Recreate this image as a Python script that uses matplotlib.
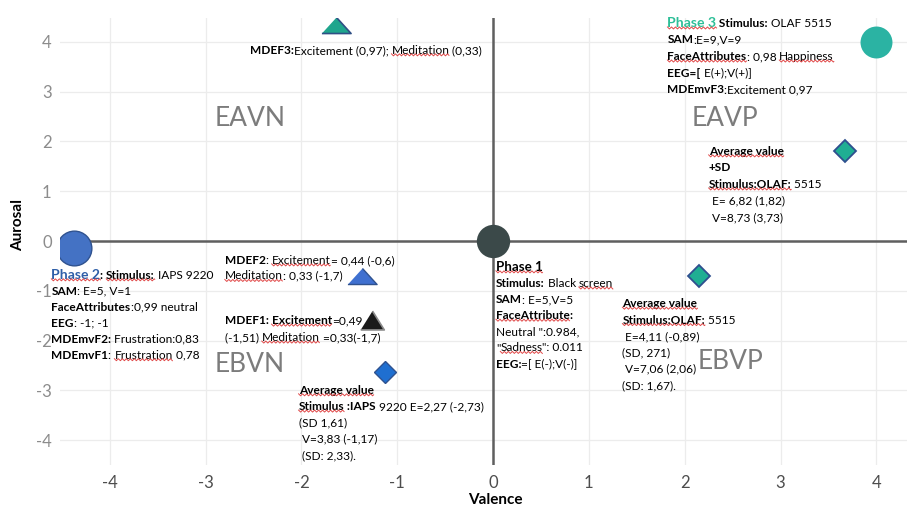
import matplotlib
matplotlib.use("Agg")
import matplotlib.pyplot as plt
import numpy as np
from matplotlib.lines import Line2D
from matplotlib.transforms import IdentityTransform

plt.rcParams['font.family'] = ['Lato', 'DejaVu Sans']

# ---------------- data ----------------
ticks = [-4, -3, -2, -1, 0, 1, 2, 3, 4]
point_names = ["Phase 3", "MDEF3", "Avg OLAF +SD", "Avg OLAF", "Avg IAPS",
               "Phase 2", "Phase 1", "MDEF2", "MDEF1"]
valence = [4.0, -1.64, 3.67, 2.15, -1.13, -4.37, 0.0, -1.37, -1.26]
arousal = [4.0, 4.34, 1.81, -0.70, -2.63, -0.15, 0.0, -0.70, -1.59]

quadrant_names = ["EAVN", "EAVP", "EBVN", "EBVP"]
quadrant_x = [-2.54, 2.42, -2.54, 2.48]
quadrant_y = [2.47, 2.47, -2.49, -2.43]

# marker styles
wide_tri = [(-1, -0.55), (1, -0.55), (0, 0.55)]
black_tri = [(-1, -0.8), (1, -0.8), (0, 0.8)]
styles = [
    dict(marker='o', ms=23, mfc='#2bb3a3', mec='#2bb3a3', mew=0),
    dict(marker=wide_tri, ms=21, mfc='#1fa58d', mec='#2f4f85', mew=1.2),
    dict(marker='D', ms=11.5, mfc='#1fae93', mec='#2f4f8f', mew=1.3),
    dict(marker='D', ms=11.5, mfc='#1fae93', mec='#2f4f8f', mew=1.3),
    dict(marker='D', ms=11.5, mfc='#1f6fd0', mec='#2f528f', mew=1.0),
    dict(marker='o', ms=25, mfc='#4472c4', mec='#2f528f', mew=1.0),
    dict(marker='o', ms=24, mfc='#3b4949', mec='#3b4949', mew=0),
    dict(marker=wide_tri, ms=21, mfc='#3f70d0', mec='#2f528f', mew=1.0),
    dict(marker=black_tri, ms=17, mfc='#1a1a1a', mec='#8a8a8a', mew=1.2),
]

# text blocks: segments (text, bold, color, size_delta, squiggle)
K = 'black'
TEAL = '#2dbf98'
BLUE = '#2f5fa8'
blocks = [
    # MDEF3
    dict(x=-2.54, y=3.76, sp=11.7, lines=[
        [("MDEF3:", 1, K, 0, 0), ("Excitement (0,97); ", 0, K, 0, 0),
         ("Meditation", 0, K, 0, 1), (" (0,33)", 0, K, 0, 0)]]),
    # Phase 3
    dict(x=1.82, y=4.30, sp=11.9, lines=[
        [("Phase 3", 1, TEAL, 1.5, 1), (" Stimulus:", 1, K, 0, 0), (" OLAF 5515", 0, K, 0, 0)],
        [("SAM", 1, K, 0, 0), (":E=9,V=9", 0, K, 0, 0)],
        [("FaceAttributes", 1, K, 0, 1), (": 0,98 ", 0, K, 0, 0), ("Happiness", 0, K, 0, 1)],
        [("EEG=[", 1, K, 0, 0), (" E(+);V(+)]", 0, K, 0, 0)],
        [("MDEmvF3", 1, K, 0, 0), (":Excitement 0,97", 0, K, 0, 0)]]),
    # Average +SD OLAF
    dict(x=2.25, y=1.73, sp=11.9, lines=[
        [("Average value", 1, K, 0, 1)],
        [("+SD", 1, K, 0, 0)],
        [("Stimulus:OLAF:", 1, K, 0, 1), (" 5515", 0, K, 0, 0)],
        [(" E= 6,82 (1,82)", 0, K, 0, 0)],
        [(" V=8,73 (3,73)", 0, K, 0, 0)]]),
    # Phase 2
    dict(x=-4.61, y=-0.76, sp=11.5, lines=[
        [("Phase 2", 1, BLUE, 1.5, 1), (": ", 1, K, 0, 0), ("Stimulus:", 1, K, 0, 1),
         (" IAPS 9220", 0, K, 0, 0)],
        [("SAM", 1, K, 0, 0), (": E=5, V=1", 0, K, 0, 0)],
        [("FaceAttributes", 1, K, 0, 0), (":0,99 neutral", 0, K, 0, 0)],
        [("EEG", 1, K, 0, 0), (": -1; -1", 0, K, 0, 0)],
        [("MDEmvF2:", 1, K, 0, 0), (" Frustration:0,83", 0, K, 0, 0)],
        [("MDEmvF1", 1, K, 0, 0), (": ", 0, K, 0, 0), ("Frustration", 0, K, 0, 1),
         (" 0,78", 0, K, 0, 0)]]),
    # MDEF2
    dict(x=-2.80, y=-0.46, sp=11.2, lines=[
        [("MDEF2", 1, K, 0, 0), (": ", 0, K, 0, 0), ("Excitement", 0, K, 0, 1),
         ("= 0,44 (-0,6)", 0, K, 0, 0)],
        [("Meditation", 0, K, 0, 1), (": 0,33 (-1,7)", 0, K, 0, 0)]]),
    # MDEF1
    dict(x=-2.80, y=-1.67, sp=12.2, lines=[
        [("MDEF1: ", 1, K, 0, 0), ("Excitement", 1, K, 0, 1), ("=0,49", 0, K, 0, 0)],
        [("(-1,51) ", 0, K, 0, 0), ("Meditation", 0, K, 0, 1), (" =0,33(-1,7)", 0, K, 0, 0)]]),
    # Phase 1
    dict(x=0.03, y=-0.60, sp=11.6, lines=[
        [("Phase 1", 1, K, 1, 1)],
        [("Stimulus:", 1, K, 0, 0), (" Black ", 0, K, 0, 0), ("screen", 0, K, 0, 1)],
        [("SAM", 1, K, 0, 0), (": E=5,V=5", 0, K, 0, 0)],
        [("FaceAttribute", 1, K, 0, 1), (":", 1, K, 0, 0)],
        [("Neutral \":0.984,", 0, K, 0, 0)],
        [("\"", 0, K, 0, 0), ("Sadness", 0, K, 0, 1), ("\": 0.011", 0, K, 0, 0)],
        [("EEG:", 1, K, 0, 0), ("=[ E(-);V(-)]", 0, K, 0, 0)]]),
    # Average OLAF
    dict(x=1.35, y=-1.33, sp=11.8, lines=[
        [("Average value", 1, K, 0, 1)],
        [("Stimulus:OLAF:", 1, K, 0, 1), (" 5515", 0, K, 0, 0)],
        [(" E=4,11 (-0,89)", 0, K, 0, 0)],
        [("(SD, 271)", 0, K, 0, 0)],
        [(" V=7,06 (2,06)", 0, K, 0, 0)],
        [("(SD: 1,67).", 0, K, 0, 0)]]),
    # Average IAPS
    dict(x=-2.03, y=-3.07, sp=11.7, lines=[
        [("Average value", 1, K, 0, 1)],
        [("Stimulus", 1, K, 0, 1), (" :IAPS", 1, K, 0, 0), (" 9220 E=2,27 (-2,73)", 0, K, 0, 0)],
        [("(SD 1,61)", 0, K, 0, 0)],
        [(" V=3,83 (-1,17)", 0, K, 0, 0)],
        [(" (SD: 2,33).", 0, K, 0, 0)]]),
]

BASE_FS = 8.6

# ---------------- figure ----------------
fig = plt.figure(figsize=(9.07, 5.12), dpi=100)
ax = fig.add_axes([60 / 907, 1 - 465 / 512, 847 / 907, 447 / 512])
ax.set_xlim(-4.52, 4.32)
ax.set_ylim(-4.5, 4.48)
for s in ax.spines.values():
    s.set_visible(False)
ax.set_xticks(ticks)
ax.set_yticks(ticks)
ax.set_xticklabels([str(t) for t in ticks])
ax.set_yticklabels([str(t) for t in ticks])
ax.tick_params(axis='both', length=0, labelsize=12)
ax.tick_params(axis='x', colors='#4d4d4d', pad=7)
ax.tick_params(axis='y', colors='#8c8c8c', pad=6)
ax.grid(True, color='#ececec', lw=0.9)
ax.set_axisbelow(True)
ax.axhline(0, color='#5f5f5f', lw=1.8, zorder=2)
ax.axvline(0, color='#5f5f5f', lw=1.8, zorder=2)

for qn, qx, qy in zip(quadrant_names, quadrant_x, quadrant_y):
    ax.text(qx, qy, qn, fontsize=19, color='#7c7c7c', ha='center', va='center',
            fontweight='normal')

for xv, yv, st in zip(valence, arousal, styles):
    ax.plot([xv], [yv], linestyle='none', zorder=4, **st)

squiggled = []
for b in blocks:
    for i, line in enumerate(b['lines']):
        prev = None
        for (txt, bold, col, dfs, sq) in line:
            fs = BASE_FS + dfs
            kw = dict(fontsize=fs, color=col, fontweight='bold' if bold else 'normal',
                      ha='left', annotation_clip=False, zorder=5)
            if prev is None:
                t = ax.annotate(txt, xy=(b['x'], b['y']), xycoords='data',
                                xytext=(0, -i * b['sp']), textcoords='offset points',
                                va='baseline', **kw)
            else:
                t = ax.annotate(txt, xy=(1, 0), xycoords=prev, xytext=(0, 0),
                                textcoords='offset points', va='bottom', **kw)
            prev = t
            if sq:
                squiggled.append(t)

fig.text(18 / 907, 1 - 225 / 512, "Aurosal", rotation=90, fontsize=11,
         fontweight='bold', ha='center', va='center')
fig.text(495 / 907, 1 - 500 / 512, "Valence", fontsize=11, fontweight='bold',
         ha='center', va='center')

# red spell-check squiggles
fig.canvas.draw()
r = fig.canvas.get_renderer()
for t in squiggled:
    bb = t.get_window_extent(r)
    xs = np.arange(bb.x0, bb.x1 + 0.01, 0.5)
    ys = bb.y0 + 1.0 + (np.abs((xs - bb.x0) % 4.0 - 2.0) - 1.0) * 1.0
    fig.add_artist(Line2D(xs, ys, transform=IdentityTransform(), color='#e04848',
                          lw=0.7, zorder=6))

fig.savefig("out.png", dpi=100)
